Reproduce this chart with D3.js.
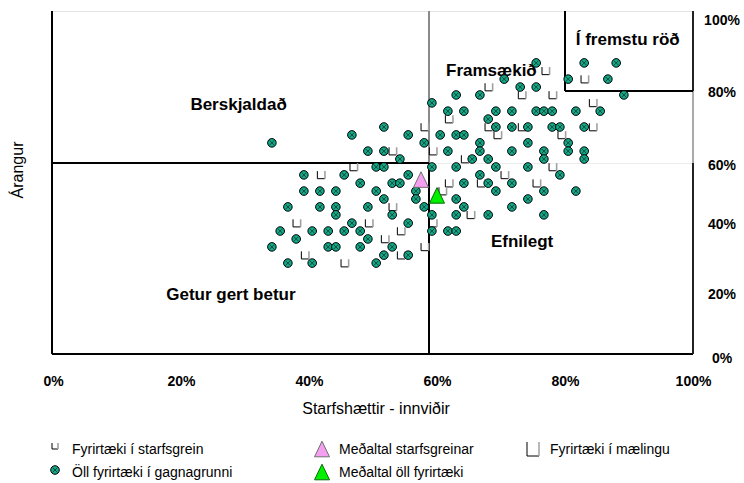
<!DOCTYPE html>
<html>
<head>
<meta charset="utf-8">
<script src="https://cdn.jsdelivr.net/npm/d3@7"></script>
<style>
  body { margin: 0; background: #fff; }
  text { font-family: "Liberation Sans", Arial, sans-serif; fill: #000; }
</style>
</head>
<body>
<div class="visHolder"></div>
<script>
// values in percent: [Starfshættir - innviðir, Árangur]
let allCompanies = [
  [75.5,87.8],[83.0,87.8],[88.0,87.8],
  [70.5,83.3],[80.5,83.3],[86.7,83.3],
  [73.0,81.1],[75.5,81.1],
  [63.0,78.9],[66.7,78.9],[89.2,78.9],
  [59.2,76.7],
  [61.7,74.4],[64.2,74.4],[69.2,74.4],[71.7,74.4],[75.5,74.4],[76.7,74.4],[78.0,74.4],[81.7,74.4],[85.5,74.4],
  [68.0,72.2],
  [51.7,70.0],[69.2,70.0],[71.7,70.0],[74.2,70.0],[78.0,70.0],[79.2,70.0],[83.0,70.0],
  [46.7,67.8],[55.5,67.8],[60.5,67.8],[63.0,67.8],[64.2,67.8],
  [34.2,65.6],[58.0,65.6],[66.7,65.6],[74.2,65.6],[80.5,65.6],
  [49.2,63.3],[51.7,63.3],[61.7,63.3],[66.7,63.3],[71.7,63.3],[76.7,63.3],[80.5,63.3],[83.0,63.3],
  [54.2,61.1],[65.5,61.1],[68.0,61.1],[76.7,61.1],[83.0,61.1],
  [50.5,58.9],[51.7,58.9],[59.2,58.9],[63.0,58.9],[69.2,58.9],[74.2,58.9],
  [39.2,56.7],[45.5,56.7],[55.5,56.7],[66.7,56.7],[79.2,56.7],
  [48.0,54.4],[53.0,54.4],[54.2,54.4],[64.2,54.4],[68.0,54.4],[71.7,54.4],
  [39.2,52.2],[41.7,52.2],[44.2,52.2],[50.5,52.2],[56.7,52.2],[69.2,52.2],[76.7,52.2],[81.7,52.2],
  [51.7,50.0],[56.7,50.0],[63.0,50.0],[74.2,50.0],
  [36.7,47.8],[41.7,47.8],[44.2,47.8],[49.2,47.8],[58.0,47.8],[64.2,47.8],[71.7,47.8],
  [44.2,45.6],[53.0,45.6],[59.2,45.6],[63.0,45.6],[68.0,45.6],[76.7,45.6],
  [46.7,43.3],[55.5,43.3],
  [35.5,41.1],[40.5,41.1],[43.0,41.1],[45.5,41.1],[48.0,41.1],[59.2,41.1],[61.7,41.1],[63.0,41.1],
  [38.0,38.9],[49.2,38.9],
  [34.2,36.7],[43.0,36.7],[44.2,36.7],[48.0,36.7],[53.0,36.7],
  [51.7,34.4],[55.5,34.4],
  [36.7,32.2],[40.5,32.2],[50.5,32.2]
];

let sectorCompanies = [
  [77.0,85.6],[83.1,83.3],[68.1,81.1],[73.3,78.9],[78.1,78.9],[84.4,76.7],
  [61.9,72.2],[58.1,70.0],[68.1,70.0],[73.3,70.0],[84.4,70.0],[69.5,67.8],[79.5,67.8],
  [53.1,63.3],[59.4,63.3],[64.4,61.1],[47.0,58.9],[78.1,58.9],[41.9,56.7],[70.6,56.7],
  [61.9,54.4],[66.9,54.4],[75.6,54.4],[60.9,52.2],[53.1,47.8],[65.3,45.6],
  [38.1,43.3],[49.4,43.3],[59.4,43.3],[54.4,41.1],[51.9,38.9],[58.1,36.7],
  [39.4,34.4],[54.4,34.4],[45.6,32.2]
];

let sectorAverage = [57.5, 55.4];
let overallAverage = [60.0, 51.0];

let xTicks = [0, 20, 40, 60, 80, 100];
let yTicks = [0, 20, 40, 60, 80, 100];

let quadrantSplit = [58.75, 60];
let topBoxSplit = [80, 80];

let quadrantNames = ['Berskjaldað', 'Framsækið', 'Getur gert betur', 'Efnilegt', 'Í fremstu röð'];
let legendNames = ['Fyrirtæki í starfsgrein', 'Öll fyrirtæki í gagnagrunni', 'Meðaltal starfsgreinar',
                   'Meðaltal öll fyrirtæki', 'Fyrirtæki í mælingu'];

let width = 744;
let height = 483;
let plot = { left: 52, right: 693, top: 11, bottom: 354 };

let svg = d3.select('.visHolder').append('svg')
  .attr('width', width)
  .attr('height', height);

let xScale = d3.scaleLinear().domain([0, 100]).range([53, 693]);
let yScale = d3.scaleLinear().domain([0, 100]).range([379, 19]);
// the right hand labels of the original are squeezed into the frame
let yLabelScale = d3.scaleLinear().domain(yTicks).range([358, 294, 224, 165, 92, 20]);

// frame and quadrant lines
function line(x1, y1, x2, y2, color, w) {
  svg.append('line')
     .attr('x1', x1).attr('y1', y1).attr('x2', x2).attr('y2', y2)
     .attr('stroke', color).attr('stroke-width', w || 1)
     .attr('shape-rendering', 'crispEdges');
}

let qx = xScale(quadrantSplit[0]);
let qy = yScale(quadrantSplit[1]);
let bx = xScale(topBoxSplit[0]);
let by = yScale(topBoxSplit[1]);

line(plot.left, plot.top, plot.right, plot.top, '#e4e4e4');
line(qx, qy, plot.right, qy, '#ececec');
line(qx, plot.top, qx, qy, '#8a8a8a', 1.5);
line(plot.left, qy, qx, qy, '#000', 1.2);
line(qx, qy, qx, plot.bottom, '#000', 1.2);
line(plot.left, plot.top, plot.left, plot.bottom, '#000', 1.2);
line(plot.left, plot.bottom, plot.right, plot.bottom, '#000', 1.2);
line(plot.right, plot.top, plot.right, by, '#222', 1.2);
line(plot.right, by, plot.right, qy, '#aaa', 1.2);
line(plot.right, qy, plot.right, plot.bottom, '#222', 1.2);
line(bx, plot.top, bx, by, '#000', 1.2);
line(bx, by, plot.right, by, '#000', 1.2);

// quadrant names
let namePos = [[29, 74.6], [68.5, 84.2], [27.8, 22], [73.3, 36.8], [89.8, 92.7]];
svg.selectAll('.qname')
  .data(quadrantNames)
  .enter().append('text')
  .attr('class', 'qname')
  .attr('x', (d, i) => xScale(namePos[i][0]))
  .attr('y', (d, i) => yScale(namePos[i][1]))
  .attr('text-anchor', 'middle')
  .style('font-size', '17px')
  .style('font-weight', 'bold')
  .text(d => d);

// axes
let xAxis = d3.axisBottom(xScale).tickValues(xTicks).tickSize(0).tickFormat(d => d + '%');
let gx = svg.append('g').attr('transform', 'translate(0,' + plot.bottom + ')').call(xAxis);
gx.select('.domain').remove();
gx.selectAll('text')
  .attr('y', 27).attr('dy', '0.35em')
  .style('font-size', '14px').style('font-weight', 'bold')
  .style('font-family', '"Liberation Sans", Arial, sans-serif');

let yAxis = d3.axisRight(yLabelScale).tickValues(yTicks).tickSize(0).tickFormat(d => d + '%');
let gy = svg.append('g').attr('transform', 'translate(722,0)').call(yAxis);
gy.select('.domain').remove();
gy.selectAll('text')
  .attr('x', 0).attr('text-anchor', 'middle')
  .style('font-size', '14px').style('font-weight', 'bold')
  .style('font-family', '"Liberation Sans", Arial, sans-serif');

svg.append('text')
   .attr('x', 376).attr('y', 414)
   .attr('text-anchor', 'middle')
   .style('font-size', '16px')
   .text('Starfshættir - innviðir');

svg.append('text')
   .attr('transform', 'translate(23,170) rotate(-90)')
   .attr('text-anchor', 'middle')
   .style('font-size', '16px')
   .text('Árangur');

// markers
function drawSquare(g, s) {
  g.append('path').attr('d', `M${-s},${-s}V${s}H${s}`)
   .attr('fill', 'none').attr('stroke', '#000').attr('stroke-width', 1);
  g.append('path').attr('d', `M${s},${s}V${-s}`)
   .attr('fill', 'none').attr('stroke', '#a0a0a0').attr('stroke-width', 1.6);
}

function drawDot(g) {
  g.append('circle').attr('r', 4.3)
   .attr('fill', '#14a888').attr('stroke', '#000').attr('stroke-width', 1);
  g.append('path').attr('d', 'M-2.5,-2.5L2.5,2.5M-2.5,2.5L2.5,-2.5')
   .attr('stroke', '#0a4a3a').attr('stroke-width', 1);
}

function drawTriangle(g, fill, stroke) {
  g.append('path').attr('d', 'M0,-7.8L7.5,7.8L-7.5,7.8Z')
   .attr('fill', fill).attr('stroke', stroke).attr('stroke-width', 1);
}

svg.selectAll('.sector')
  .data(sectorCompanies)
  .enter().append('g')
  .attr('class', 'sector')
  .attr('transform', d => `translate(${xScale(d[0])},${yScale(d[1])})`)
  .each(function () { drawSquare(d3.select(this), 3.8); });

svg.selectAll('.dot')
  .data(allCompanies)
  .enter().append('g')
  .attr('class', 'dot')
  .attr('transform', d => `translate(${xScale(d[0])},${yScale(d[1])})`)
  .each(function () { drawDot(d3.select(this)); });

let avgSector = svg.append('g')
  .attr('transform', `translate(${xScale(sectorAverage[0])},${yScale(sectorAverage[1])})`);
drawTriangle(avgSector, '#f59ff0', '#707070');

let avgAll = svg.append('g')
  .attr('transform', `translate(${xScale(overallAverage[0])},${yScale(overallAverage[1])})`);
drawTriangle(avgAll, '#00f000', '#0a6a0a');

// legend
let legendCols = [55, 322, 533];
let legendRows = [449, 472];
let legendSlots = [[0, 0], [0, 1], [1, 0], [1, 1], [2, 0]];

legendNames.forEach((name, i) => {
  let cx = legendCols[legendSlots[i][0]];
  let cy = legendRows[legendSlots[i][1]];
  let g = svg.append('g').attr('transform', `translate(${cx},${cy})`);
  if (i === 0) drawSquare(g.append('g').attr('transform', 'translate(0,-3)'), 3);
  if (i === 1) drawDot(g.append('g').attr('transform', 'translate(0,-2)'));
  if (i === 2) drawTriangle(g, '#f59ff0', '#707070');
  if (i === 3) drawTriangle(g, '#00f000', '#0a6a0a');
  if (i === 4) {
    g.append('path').attr('d', 'M-6,-7V7H6').attr('fill', 'none').attr('stroke', '#000');
    g.append('path').attr('d', 'M6,7V-7').attr('fill', 'none').attr('stroke', '#a0a0a0').attr('stroke-width', 1.5);
  }
  svg.append('text')
     .attr('x', cx + 17).attr('y', cy + 5)
     .style('font-size', '14px')
     .text(name);
});
</script>
</body>
</html>
